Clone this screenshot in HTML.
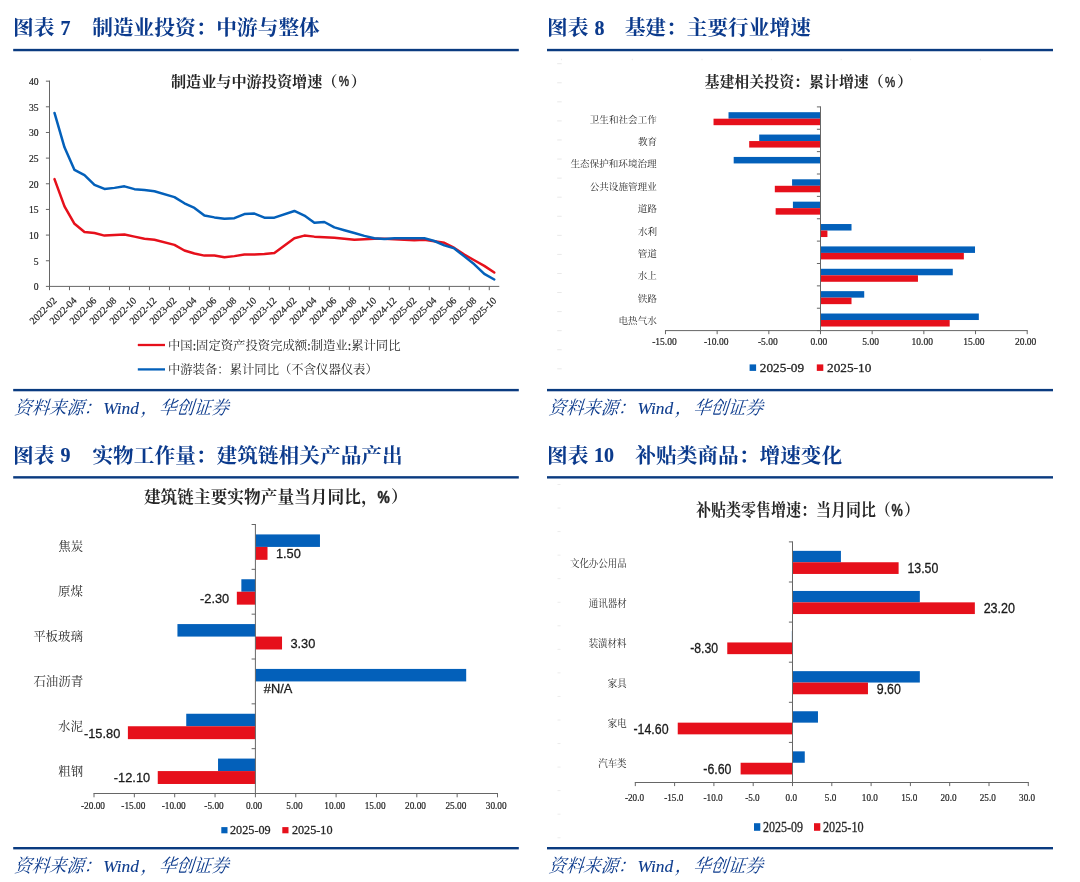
<!DOCTYPE html>
<html lang="zh-CN">
<head>
<meta charset="utf-8">
<title>图表 7-10</title>
<style>
html,body{margin:0;padding:0;background:#fff}
body{position:relative;width:1080px;height:882px;overflow:hidden;font-family:"Liberation Serif",serif}
svg{position:absolute;left:0;top:0;display:block;will-change:transform}
.t{position:absolute;white-space:nowrap;line-height:1;color:transparent;font-family:"Liberation Serif",serif;pointer-events:none;user-select:none}
.c{font-family:"Liberation Serif","Noto Serif CJK SC",serif}
</style>
</head>
<body>
<svg width="1080" height="882" viewBox="0 0 1080 882" font-family="Liberation Serif">
<!-- rules -->
<rect x="13.2" y="48.85" width="505.6" height="2.4" fill="#0a3b80"/>
<rect x="13.2" y="388.9" width="505.6" height="2.4" fill="#0a3b80"/>
<rect x="13.2" y="476.15" width="505.6" height="2.4" fill="#0a3b80"/>
<rect x="13.2" y="847" width="505.6" height="2.4" fill="#0a3b80"/>
<rect x="547" y="48.85" width="506" height="2.4" fill="#0a3b80"/>
<rect x="547" y="388.9" width="506" height="2.4" fill="#0a3b80"/>
<rect x="547" y="476.15" width="506" height="2.4" fill="#0a3b80"/>
<rect x="547" y="847" width="506" height="2.4" fill="#0a3b80"/>
<!-- headings -->
<text class="c" x="13.1" y="35.47" font-size="20.7" font-weight="bold" fill="#0b3a8c">图表</text>
<text x="60.5" y="35" font-size="20" fill="#0b3a8c" stroke="#0b3a8c" stroke-width="0.15" font-weight="bold">7</text>
<text class="c" x="92.22" y="35.47" font-size="20.7" font-weight="bold" fill="#0b3a8c">制造业投资：中游与整体</text>
<text class="c" x="547.1" y="35.47" font-size="20.7" font-weight="bold" fill="#0b3a8c">图表</text>
<text x="594.5" y="35" font-size="20" fill="#0b3a8c" stroke="#0b3a8c" stroke-width="0.15" font-weight="bold">8</text>
<text class="c" x="624.67" y="35.47" font-size="20.7" font-weight="bold" fill="#0b3a8c">基建：主要行业增速</text>
<text class="c" x="13.1" y="462.87" font-size="20.7" font-weight="bold" fill="#0b3a8c">图表</text>
<text x="60.5" y="462.4" font-size="20" fill="#0b3a8c" stroke="#0b3a8c" stroke-width="0.15" font-weight="bold">9</text>
<text class="c" x="92.43" y="462.87" font-size="20.7" font-weight="bold" fill="#0b3a8c">实物工作量：建筑链相关产品产出</text>
<text class="c" x="547.1" y="462.87" font-size="20.7" font-weight="bold" fill="#0b3a8c">图表</text>
<text x="593.9" y="462.4" font-size="20" fill="#0b3a8c" stroke="#0b3a8c" stroke-width="0.15" font-weight="bold">10</text>
<text class="c" x="635.32" y="462.87" font-size="20.7" font-weight="bold" fill="#0b3a8c">补贴类商品：增速变化</text>
<!-- sources -->
<text class="c" transform="translate(14.02 413.66) skewX(-18) scale(0.9434 1)" font-size="18.44" fill="#0b3a8c">资料来源：</text>
<text x="103.2" y="413.86" font-size="17.4" fill="#0b3a8c" stroke="#0b3a8c" stroke-width="0.12" font-style="italic">Wind</text>
<text class="c" transform="translate(140.4 413.66) skewX(-18) scale(0.9434 1)" font-size="18.44" fill="#0b3a8c">，</text>
<text class="c" transform="translate(158.75 413.66) skewX(-18) scale(0.9434 1)" font-size="18.44" fill="#0b3a8c">华创证券</text>
<text class="c" transform="translate(548.32 413.66) skewX(-18) scale(0.9434 1)" font-size="18.44" fill="#0b3a8c">资料来源：</text>
<text x="637.5" y="413.86" font-size="17.4" fill="#0b3a8c" stroke="#0b3a8c" stroke-width="0.12" font-style="italic">Wind</text>
<text class="c" transform="translate(674.7 413.66) skewX(-18) scale(0.9434 1)" font-size="18.44" fill="#0b3a8c">，</text>
<text class="c" transform="translate(693.05 413.66) skewX(-18) scale(0.9434 1)" font-size="18.44" fill="#0b3a8c">华创证券</text>
<text class="c" transform="translate(14.02 872.26) skewX(-18) scale(0.9434 1)" font-size="18.44" fill="#0b3a8c">资料来源：</text>
<text x="103.2" y="872.46" font-size="17.4" fill="#0b3a8c" stroke="#0b3a8c" stroke-width="0.12" font-style="italic">Wind</text>
<text class="c" transform="translate(140.4 872.26) skewX(-18) scale(0.9434 1)" font-size="18.44" fill="#0b3a8c">，</text>
<text class="c" transform="translate(158.75 872.26) skewX(-18) scale(0.9434 1)" font-size="18.44" fill="#0b3a8c">华创证券</text>
<text class="c" transform="translate(548.32 872.26) skewX(-18) scale(0.9434 1)" font-size="18.44" fill="#0b3a8c">资料来源：</text>
<text x="637.5" y="872.46" font-size="17.4" fill="#0b3a8c" stroke="#0b3a8c" stroke-width="0.12" font-style="italic">Wind</text>
<text class="c" transform="translate(674.7 872.26) skewX(-18) scale(0.9434 1)" font-size="18.44" fill="#0b3a8c">，</text>
<text class="c" transform="translate(693.05 872.26) skewX(-18) scale(0.9434 1)" font-size="18.44" fill="#0b3a8c">华创证券</text>
<!-- chart 1 -->
<text class="c" x="170.91" y="86.53" font-size="15.15" font-weight="bold" fill="#262626">制造业与中游投资增速（</text>
<text x="338.66" y="86.23" font-size="14.54" fill="#262626" stroke="#262626" stroke-width="0.45" font-family="Liberation Sans" transform="translate(338.66 0) scale(0.8 1) translate(-338.66 0)">%</text>
<text class="c" x="350.86" y="86.53" font-size="15.15" font-weight="bold" fill="#262626">）</text>
<path d="M49.5 80.6L49.5 286.9" stroke="#666666" stroke-width="1"/>
<path d="M49 286.4L499.3 286.4" stroke="#666666" stroke-width="1"/>
<path d="M45.9 286.4L49.5 286.4" stroke="#666666" stroke-width="1"/>
<text x="38.6" y="290.2" font-size="9.6" fill="#262626" stroke="#262626" stroke-width="0.21" text-anchor="end">0</text>
<path d="M45.9 260.75L49.5 260.75" stroke="#666666" stroke-width="1"/>
<text x="38.6" y="264.55" font-size="9.6" fill="#262626" stroke="#262626" stroke-width="0.21" text-anchor="end">5</text>
<path d="M45.9 235.09L49.5 235.09" stroke="#666666" stroke-width="1"/>
<text x="38.6" y="238.89" font-size="9.6" fill="#262626" stroke="#262626" stroke-width="0.21" text-anchor="end">10</text>
<path d="M45.9 209.43L49.5 209.43" stroke="#666666" stroke-width="1"/>
<text x="38.6" y="213.23" font-size="9.6" fill="#262626" stroke="#262626" stroke-width="0.21" text-anchor="end">15</text>
<path d="M45.9 183.78L49.5 183.78" stroke="#666666" stroke-width="1"/>
<text x="38.6" y="187.58" font-size="9.6" fill="#262626" stroke="#262626" stroke-width="0.21" text-anchor="end">20</text>
<path d="M45.9 158.12L49.5 158.12" stroke="#666666" stroke-width="1"/>
<text x="38.6" y="161.92" font-size="9.6" fill="#262626" stroke="#262626" stroke-width="0.21" text-anchor="end">25</text>
<path d="M45.9 132.47L49.5 132.47" stroke="#666666" stroke-width="1"/>
<text x="38.6" y="136.27" font-size="9.6" fill="#262626" stroke="#262626" stroke-width="0.21" text-anchor="end">30</text>
<path d="M45.9 106.81L49.5 106.81" stroke="#666666" stroke-width="1"/>
<text x="38.6" y="110.61" font-size="9.6" fill="#262626" stroke="#262626" stroke-width="0.21" text-anchor="end">35</text>
<path d="M45.9 81.16L49.5 81.16" stroke="#666666" stroke-width="1"/>
<text x="38.6" y="84.96" font-size="9.6" fill="#262626" stroke="#262626" stroke-width="0.21" text-anchor="end">40</text>
<path d="M49.5 286.4L49.5 290.2" stroke="#666666" stroke-width="1"/>
<path d="M69.49 286.4L69.49 290.2" stroke="#666666" stroke-width="1"/>
<path d="M89.48 286.4L89.48 290.2" stroke="#666666" stroke-width="1"/>
<path d="M109.47 286.4L109.47 290.2" stroke="#666666" stroke-width="1"/>
<path d="M129.46 286.4L129.46 290.2" stroke="#666666" stroke-width="1"/>
<path d="M149.45 286.4L149.45 290.2" stroke="#666666" stroke-width="1"/>
<path d="M169.44 286.4L169.44 290.2" stroke="#666666" stroke-width="1"/>
<path d="M189.43 286.4L189.43 290.2" stroke="#666666" stroke-width="1"/>
<path d="M209.42 286.4L209.42 290.2" stroke="#666666" stroke-width="1"/>
<path d="M229.41 286.4L229.41 290.2" stroke="#666666" stroke-width="1"/>
<path d="M249.4 286.4L249.4 290.2" stroke="#666666" stroke-width="1"/>
<path d="M269.39 286.4L269.39 290.2" stroke="#666666" stroke-width="1"/>
<path d="M289.38 286.4L289.38 290.2" stroke="#666666" stroke-width="1"/>
<path d="M309.37 286.4L309.37 290.2" stroke="#666666" stroke-width="1"/>
<path d="M329.36 286.4L329.36 290.2" stroke="#666666" stroke-width="1"/>
<path d="M349.35 286.4L349.35 290.2" stroke="#666666" stroke-width="1"/>
<path d="M369.34 286.4L369.34 290.2" stroke="#666666" stroke-width="1"/>
<path d="M389.33 286.4L389.33 290.2" stroke="#666666" stroke-width="1"/>
<path d="M409.32 286.4L409.32 290.2" stroke="#666666" stroke-width="1"/>
<path d="M429.31 286.4L429.31 290.2" stroke="#666666" stroke-width="1"/>
<path d="M449.3 286.4L449.3 290.2" stroke="#666666" stroke-width="1"/>
<path d="M469.29 286.4L469.29 290.2" stroke="#666666" stroke-width="1"/>
<path d="M489.28 286.4L489.28 290.2" stroke="#666666" stroke-width="1"/>
<text x="57.2" y="301.1" font-size="10" fill="#262626" stroke="#262626" stroke-width="0.22" text-anchor="end" transform="rotate(-45 57.2 301.1)">2022-02</text>
<text x="77.19" y="301.1" font-size="10" fill="#262626" stroke="#262626" stroke-width="0.22" text-anchor="end" transform="rotate(-45 77.19 301.1)">2022-04</text>
<text x="97.18" y="301.1" font-size="10" fill="#262626" stroke="#262626" stroke-width="0.22" text-anchor="end" transform="rotate(-45 97.18 301.1)">2022-06</text>
<text x="117.17" y="301.1" font-size="10" fill="#262626" stroke="#262626" stroke-width="0.22" text-anchor="end" transform="rotate(-45 117.17 301.1)">2022-08</text>
<text x="137.16" y="301.1" font-size="10" fill="#262626" stroke="#262626" stroke-width="0.22" text-anchor="end" transform="rotate(-45 137.16 301.1)">2022-10</text>
<text x="157.15" y="301.1" font-size="10" fill="#262626" stroke="#262626" stroke-width="0.22" text-anchor="end" transform="rotate(-45 157.15 301.1)">2022-12</text>
<text x="177.14" y="301.1" font-size="10" fill="#262626" stroke="#262626" stroke-width="0.22" text-anchor="end" transform="rotate(-45 177.14 301.1)">2023-02</text>
<text x="197.13" y="301.1" font-size="10" fill="#262626" stroke="#262626" stroke-width="0.22" text-anchor="end" transform="rotate(-45 197.13 301.1)">2023-04</text>
<text x="217.12" y="301.1" font-size="10" fill="#262626" stroke="#262626" stroke-width="0.22" text-anchor="end" transform="rotate(-45 217.12 301.1)">2023-06</text>
<text x="237.11" y="301.1" font-size="10" fill="#262626" stroke="#262626" stroke-width="0.22" text-anchor="end" transform="rotate(-45 237.11 301.1)">2023-08</text>
<text x="257.1" y="301.1" font-size="10" fill="#262626" stroke="#262626" stroke-width="0.22" text-anchor="end" transform="rotate(-45 257.1 301.1)">2023-10</text>
<text x="277.09" y="301.1" font-size="10" fill="#262626" stroke="#262626" stroke-width="0.22" text-anchor="end" transform="rotate(-45 277.09 301.1)">2023-12</text>
<text x="297.08" y="301.1" font-size="10" fill="#262626" stroke="#262626" stroke-width="0.22" text-anchor="end" transform="rotate(-45 297.08 301.1)">2024-02</text>
<text x="317.07" y="301.1" font-size="10" fill="#262626" stroke="#262626" stroke-width="0.22" text-anchor="end" transform="rotate(-45 317.07 301.1)">2024-04</text>
<text x="337.06" y="301.1" font-size="10" fill="#262626" stroke="#262626" stroke-width="0.22" text-anchor="end" transform="rotate(-45 337.06 301.1)">2024-06</text>
<text x="357.05" y="301.1" font-size="10" fill="#262626" stroke="#262626" stroke-width="0.22" text-anchor="end" transform="rotate(-45 357.05 301.1)">2024-08</text>
<text x="377.04" y="301.1" font-size="10" fill="#262626" stroke="#262626" stroke-width="0.22" text-anchor="end" transform="rotate(-45 377.04 301.1)">2024-10</text>
<text x="397.03" y="301.1" font-size="10" fill="#262626" stroke="#262626" stroke-width="0.22" text-anchor="end" transform="rotate(-45 397.03 301.1)">2024-12</text>
<text x="417.02" y="301.1" font-size="10" fill="#262626" stroke="#262626" stroke-width="0.22" text-anchor="end" transform="rotate(-45 417.02 301.1)">2025-02</text>
<text x="437.01" y="301.1" font-size="10" fill="#262626" stroke="#262626" stroke-width="0.22" text-anchor="end" transform="rotate(-45 437.01 301.1)">2025-04</text>
<text x="457" y="301.1" font-size="10" fill="#262626" stroke="#262626" stroke-width="0.22" text-anchor="end" transform="rotate(-45 457 301.1)">2025-06</text>
<text x="476.99" y="301.1" font-size="10" fill="#262626" stroke="#262626" stroke-width="0.22" text-anchor="end" transform="rotate(-45 476.99 301.1)">2025-08</text>
<text x="496.98" y="301.1" font-size="10" fill="#262626" stroke="#262626" stroke-width="0.22" text-anchor="end" transform="rotate(-45 496.98 301.1)">2025-10</text>
<path d="M54.5 179.16L64.49 206.36L74.49 223.8L84.48 232.01L94.48 233.04L104.47 235.6L114.47 235.09L124.46 234.58L134.46 236.63L144.45 238.68L154.45 239.71L174.44 244.84L184.43 250.48L194.43 253.56L204.42 255.61L214.42 255.61L224.41 257.15L234.41 256.13L244.4 254.59L254.4 254.59L264.39 254.07L274.39 253.05L294.38 238.17L304.37 235.6L314.37 236.63L324.36 237.14L334.36 237.66L344.35 238.68L354.35 239.71L364.34 239.19L374.34 238.68L384.33 238.68L394.33 239.19L414.32 240.22L424.31 239.71L434.31 241.25L444.3 242.79L454.3 247.92L464.29 254.59L474.29 260.23L484.28 265.88L494.28 272.55" fill="none" stroke="#e6101b" stroke-width="2.5" stroke-linejoin="round" stroke-linecap="round"/>
<path d="M54.5 112.97L64.49 147.35L74.49 169.93L84.48 175.06L94.48 184.81L104.47 188.91L114.47 187.88L124.46 186.35L134.46 189.17L144.45 189.94L154.45 191.22L174.44 197.12L184.43 203.28L194.43 207.9L204.42 215.59L214.42 217.39L224.41 218.67L234.41 218.16L244.4 214.05L254.4 213.54L264.39 217.64L274.39 217.64L294.38 210.97L304.37 215.59L314.37 222.78L324.36 222.01L334.36 227.39L344.35 230.22L354.35 233.04L364.34 235.86L374.34 238.17L384.33 238.94L394.33 238.17L404.32 238.17L414.32 238.17L424.31 238.17L434.31 240.99L444.3 245.35L454.3 248.43L464.29 256.38L474.29 264.34L484.28 273.83L494.28 279.47" fill="none" stroke="#0360ba" stroke-width="2.5" stroke-linejoin="round" stroke-linecap="round"/>
<path d="M137.8 345L165 345" stroke="#e6101b" stroke-width="2.3"/>
<text class="c" x="167.95" y="350.03" font-size="12.35" fill="#262626">中国</text>
<text x="192.65" y="349.73" font-size="12.35" fill="#262626" stroke="#262626" stroke-width="0.27">:</text>
<text class="c" x="196.08" y="350.03" font-size="12.35" fill="#262626">固定资产投资完成额</text>
<text x="307.23" y="349.73" font-size="12.35" fill="#262626" stroke="#262626" stroke-width="0.27">:</text>
<text class="c" x="310.66" y="350.03" font-size="12.35" fill="#262626">制造业</text>
<text x="347.71" y="349.73" font-size="12.35" fill="#262626" stroke="#262626" stroke-width="0.27">:</text>
<text class="c" x="351.14" y="350.03" font-size="12.35" fill="#262626">累计同比</text>
<path d="M137.8 369.4L165 369.4" stroke="#0360ba" stroke-width="2.3"/>
<text class="c" x="167.95" y="374.03" font-size="12.35" fill="#262626">中游装备：累计同比（不含仪器仪表）</text>
<!-- chart 2 -->
<text class="c" x="704.48" y="86.82" font-size="14.95" font-weight="bold" fill="#262626">基建相关投资：累计增速（</text>
<text x="884.98" y="86.52" font-size="14.35" fill="#262626" stroke="#262626" stroke-width="0.45" font-family="Liberation Sans" transform="translate(884.98 0) scale(0.8 1) translate(-884.98 0)">%</text>
<text class="c" x="897.18" y="86.82" font-size="14.95" font-weight="bold" fill="#262626">）</text>
<rect x="728.52" y="112.19" width="91.98" height="6.5" fill="#0360ba"/>
<rect x="713.53" y="118.69" width="106.97" height="6.5" fill="#e6101b"/>
<text class="c" x="589.73" y="122.65" font-size="9.6" fill="#2d2d2d">卫生和社会工作</text>
<rect x="759.21" y="134.56" width="61.29" height="6.5" fill="#0360ba"/>
<rect x="749.19" y="141.06" width="71.31" height="6.5" fill="#e6101b"/>
<text class="c" x="637.95" y="145.02" font-size="9.6" fill="#2d2d2d">教育</text>
<rect x="733.69" y="156.93" width="86.81" height="6.5" fill="#0360ba"/>
<text class="c" x="570.38" y="167.39" font-size="9.6" fill="#2d2d2d">生态保护和环境治理</text>
<rect x="792.08" y="179.29" width="28.42" height="6.5" fill="#0360ba"/>
<rect x="774.82" y="185.79" width="45.68" height="6.5" fill="#e6101b"/>
<text class="c" x="589.67" y="189.76" font-size="9.6" fill="#2d2d2d">公共设施管理业</text>
<rect x="792.91" y="201.66" width="27.59" height="6.5" fill="#0360ba"/>
<rect x="775.65" y="208.16" width="44.85" height="6.5" fill="#e6101b"/>
<text class="c" x="637.67" y="212.13" font-size="9.6" fill="#2d2d2d">道路</text>
<rect x="820.5" y="224.03" width="31.01" height="6.5" fill="#0360ba"/>
<rect x="820.5" y="230.53" width="6.92" height="6.5" fill="#e6101b"/>
<text class="c" x="637.92" y="234.5" font-size="9.6" fill="#2d2d2d">水利</text>
<rect x="820.5" y="246.41" width="154.51" height="6.5" fill="#0360ba"/>
<rect x="820.5" y="252.91" width="143.35" height="6.5" fill="#e6101b"/>
<text class="c" x="637.75" y="256.87" font-size="9.6" fill="#2d2d2d">管道</text>
<rect x="820.5" y="268.78" width="132.29" height="6.5" fill="#0360ba"/>
<rect x="820.5" y="275.28" width="97.46" height="6.5" fill="#e6101b"/>
<text class="c" x="637.78" y="279.24" font-size="9.6" fill="#2d2d2d">水上</text>
<rect x="820.5" y="291.15" width="43.72" height="6.5" fill="#0360ba"/>
<rect x="820.5" y="297.65" width="31.01" height="6.5" fill="#e6101b"/>
<text class="c" x="637.67" y="301.61" font-size="9.6" fill="#2d2d2d">铁路</text>
<rect x="820.5" y="313.52" width="158.33" height="6.5" fill="#0360ba"/>
<rect x="820.5" y="320.02" width="129.19" height="6.5" fill="#e6101b"/>
<text class="c" x="618.47" y="323.98" font-size="9.6" fill="#2d2d2d">电热气水</text>
<path d="M820.5 106.4L820.5 331.1" stroke="#666666" stroke-width="1"/>
<path d="M816.9 106.9L820.5 106.9" stroke="#666666" stroke-width="1"/>
<path d="M816.9 129.27L820.5 129.27" stroke="#666666" stroke-width="1"/>
<path d="M816.9 151.64L820.5 151.64" stroke="#666666" stroke-width="1"/>
<path d="M816.9 174.01L820.5 174.01" stroke="#666666" stroke-width="1"/>
<path d="M816.9 196.38L820.5 196.38" stroke="#666666" stroke-width="1"/>
<path d="M816.9 218.75L820.5 218.75" stroke="#666666" stroke-width="1"/>
<path d="M816.9 241.12L820.5 241.12" stroke="#666666" stroke-width="1"/>
<path d="M816.9 263.49L820.5 263.49" stroke="#666666" stroke-width="1"/>
<path d="M816.9 285.86L820.5 285.86" stroke="#666666" stroke-width="1"/>
<path d="M816.9 308.23L820.5 308.23" stroke="#666666" stroke-width="1"/>
<path d="M816.9 330.6L820.5 330.6" stroke="#666666" stroke-width="1"/>
<path d="M664.98 330.6L1027.7 330.6" stroke="#666666" stroke-width="1"/>
<path d="M665.48 330.6L665.48 334.2" stroke="#666666" stroke-width="1"/>
<text x="664.48" y="345.2" font-size="9.5" fill="#262626" stroke="#262626" stroke-width="0.21" text-anchor="middle">-15.00</text>
<path d="M717.15 330.6L717.15 334.2" stroke="#666666" stroke-width="1"/>
<text x="716.15" y="345.2" font-size="9.5" fill="#262626" stroke="#262626" stroke-width="0.21" text-anchor="middle">-10.00</text>
<path d="M768.83 330.6L768.83 334.2" stroke="#666666" stroke-width="1"/>
<text x="767.83" y="345.2" font-size="9.5" fill="#262626" stroke="#262626" stroke-width="0.21" text-anchor="middle">-5.00</text>
<path d="M820.5 330.6L820.5 334.2" stroke="#666666" stroke-width="1"/>
<text x="818.9" y="345.2" font-size="9.5" fill="#262626" stroke="#262626" stroke-width="0.21" text-anchor="middle">0.00</text>
<path d="M872.17 330.6L872.17 334.2" stroke="#666666" stroke-width="1"/>
<text x="870.57" y="345.2" font-size="9.5" fill="#262626" stroke="#262626" stroke-width="0.21" text-anchor="middle">5.00</text>
<path d="M923.85 330.6L923.85 334.2" stroke="#666666" stroke-width="1"/>
<text x="922.25" y="345.2" font-size="9.5" fill="#262626" stroke="#262626" stroke-width="0.21" text-anchor="middle">10.00</text>
<path d="M975.52 330.6L975.52 334.2" stroke="#666666" stroke-width="1"/>
<text x="973.92" y="345.2" font-size="9.5" fill="#262626" stroke="#262626" stroke-width="0.21" text-anchor="middle">15.00</text>
<path d="M1027.2 330.6L1027.2 334.2" stroke="#666666" stroke-width="1"/>
<text x="1025.6" y="345.2" font-size="9.5" fill="#262626" stroke="#262626" stroke-width="0.21" text-anchor="middle">20.00</text>
<rect x="749.6" y="364.4" width="6.5" height="6.5" fill="#0360ba"/>
<text x="759.8" y="372" font-size="13.3" fill="#262626" stroke="#262626" stroke-width="0.29">2025-09</text>
<rect x="816.8" y="364.4" width="6.5" height="6.5" fill="#e6101b"/>
<text x="827" y="372" font-size="13.3" fill="#262626" stroke="#262626" stroke-width="0.29">2025-10</text>
<path d="M557.2 63.7L561.7 63.7" stroke="#e9e9e9" stroke-width="1"/>
<path d="M557.2 82.77L561.7 82.77" stroke="#e9e9e9" stroke-width="1"/>
<path d="M557.2 101.84L561.7 101.84" stroke="#e9e9e9" stroke-width="1"/>
<path d="M557.2 120.91L561.7 120.91" stroke="#e9e9e9" stroke-width="1"/>
<path d="M557.2 139.98L561.7 139.98" stroke="#e9e9e9" stroke-width="1"/>
<path d="M557.2 159.05L561.7 159.05" stroke="#e9e9e9" stroke-width="1"/>
<path d="M557.2 178.12L561.7 178.12" stroke="#e9e9e9" stroke-width="1"/>
<path d="M557.2 197.19L561.7 197.19" stroke="#e9e9e9" stroke-width="1"/>
<path d="M557.2 216.26L561.7 216.26" stroke="#e9e9e9" stroke-width="1"/>
<path d="M557.2 235.33L561.7 235.33" stroke="#e9e9e9" stroke-width="1"/>
<path d="M557.2 254.4L561.7 254.4" stroke="#e9e9e9" stroke-width="1"/>
<path d="M557.2 273.47L561.7 273.47" stroke="#e9e9e9" stroke-width="1"/>
<path d="M557.2 292.54L561.7 292.54" stroke="#e9e9e9" stroke-width="1"/>
<path d="M557.2 311.61L561.7 311.61" stroke="#e9e9e9" stroke-width="1"/>
<path d="M557.2 330.68L561.7 330.68" stroke="#e9e9e9" stroke-width="1"/>
<path d="M557.2 349.75L561.7 349.75" stroke="#e9e9e9" stroke-width="1"/>
<path d="M557.2 368.82L561.7 368.82" stroke="#e9e9e9" stroke-width="1"/>
<!-- chart 3 -->
<text class="c" x="143.92" y="502.95" font-size="16.7" font-weight="bold" fill="#262626">建筑链主要实物产量当月同比</text>
<text class="c" x="361.32" y="502.95" font-size="16.7" font-weight="bold" fill="#262626">，</text>
<text x="377.52" y="502.65" font-size="16.03" fill="#262626" stroke="#262626" stroke-width="0.5" font-family="Liberation Sans" font-weight="bold" transform="translate(377.52 0) scale(0.86 1) translate(-377.52 0)">%</text>
<text class="c" x="390.92" y="502.95" font-size="16.7" font-weight="bold" fill="#262626">）</text>
<rect x="255.4" y="534.42" width="64.56" height="12.5" fill="#0360ba"/>
<rect x="255.4" y="546.92" width="12.11" height="12.9" fill="#e6101b"/>
<text class="c" x="58.2" y="551.34" font-size="12.45" fill="#2d2d2d">焦炭</text>
<text x="275.9" y="558.27" font-size="12.8" fill="#1a1a1a" stroke="#1a1a1a" stroke-width="0.28" font-family="Liberation Sans">1.50</text>
<rect x="241.36" y="579.25" width="14.04" height="12.5" fill="#0360ba"/>
<rect x="236.84" y="591.75" width="18.56" height="12.9" fill="#e6101b"/>
<text class="c" x="58.02" y="596.17" font-size="12.45" fill="#2d2d2d">原煤</text>
<text x="229.24" y="603.1" font-size="12.8" fill="#1a1a1a" stroke="#1a1a1a" stroke-width="0.28" font-family="Liberation Sans" text-anchor="end">-2.30</text>
<rect x="177.44" y="624.08" width="77.96" height="12.5" fill="#0360ba"/>
<rect x="255.4" y="636.58" width="26.63" height="12.9" fill="#e6101b"/>
<text class="c" x="33.14" y="641.01" font-size="12.45" fill="#2d2d2d">平板玻璃</text>
<text x="290.43" y="647.93" font-size="12.8" fill="#1a1a1a" stroke="#1a1a1a" stroke-width="0.28" font-family="Liberation Sans">3.30</text>
<rect x="255.4" y="668.92" width="210.79" height="12.5" fill="#0360ba"/>
<text class="c" x="33.39" y="685.84" font-size="12.45" fill="#2d2d2d">石油沥青</text>
<text x="263.8" y="692.77" font-size="12.8" fill="#1a1a1a" stroke="#1a1a1a" stroke-width="0.28" font-family="Liberation Sans">#N/A</text>
<rect x="186.24" y="713.75" width="69.16" height="12.5" fill="#0360ba"/>
<rect x="127.89" y="726.25" width="127.51" height="12.9" fill="#e6101b"/>
<text class="c" x="58.1" y="730.67" font-size="12.45" fill="#2d2d2d">水泥</text>
<text x="120.29" y="737.6" font-size="12.8" fill="#1a1a1a" stroke="#1a1a1a" stroke-width="0.28" font-family="Liberation Sans" text-anchor="end">-15.80</text>
<rect x="218.04" y="758.58" width="37.36" height="12.5" fill="#0360ba"/>
<rect x="157.75" y="771.08" width="97.65" height="12.9" fill="#e6101b"/>
<text class="c" x="58.22" y="775.51" font-size="12.45" fill="#2d2d2d">粗钢</text>
<text x="150.15" y="782.43" font-size="12.8" fill="#1a1a1a" stroke="#1a1a1a" stroke-width="0.28" font-family="Liberation Sans" text-anchor="end">-12.10</text>
<path d="M255.4 524L255.4 794" stroke="#666666" stroke-width="1"/>
<path d="M251.6 524.5L255.4 524.5" stroke="#666666" stroke-width="1"/>
<path d="M251.6 569.33L255.4 569.33" stroke="#666666" stroke-width="1"/>
<path d="M251.6 614.17L255.4 614.17" stroke="#666666" stroke-width="1"/>
<path d="M251.6 659L255.4 659" stroke="#666666" stroke-width="1"/>
<path d="M251.6 703.83L255.4 703.83" stroke="#666666" stroke-width="1"/>
<path d="M251.6 748.67L255.4 748.67" stroke="#666666" stroke-width="1"/>
<path d="M251.6 793.5L255.4 793.5" stroke="#666666" stroke-width="1"/>
<path d="M93.5 793.5L498 793.5" stroke="#666666" stroke-width="1"/>
<path d="M94 793.5L94 797.3" stroke="#666666" stroke-width="1"/>
<text x="93" y="808.7" font-size="9.3" fill="#262626" stroke="#262626" stroke-width="0.2" text-anchor="middle">-20.00</text>
<path d="M134.35 793.5L134.35 797.3" stroke="#666666" stroke-width="1"/>
<text x="133.35" y="808.7" font-size="9.3" fill="#262626" stroke="#262626" stroke-width="0.2" text-anchor="middle">-15.00</text>
<path d="M174.7 793.5L174.7 797.3" stroke="#666666" stroke-width="1"/>
<text x="173.7" y="808.7" font-size="9.3" fill="#262626" stroke="#262626" stroke-width="0.2" text-anchor="middle">-10.00</text>
<path d="M215.05 793.5L215.05 797.3" stroke="#666666" stroke-width="1"/>
<text x="214.05" y="808.7" font-size="9.3" fill="#262626" stroke="#262626" stroke-width="0.2" text-anchor="middle">-5.00</text>
<path d="M255.4 793.5L255.4 797.3" stroke="#666666" stroke-width="1"/>
<text x="254.1" y="808.7" font-size="9.3" fill="#262626" stroke="#262626" stroke-width="0.2" text-anchor="middle">0.00</text>
<path d="M295.75 793.5L295.75 797.3" stroke="#666666" stroke-width="1"/>
<text x="294.45" y="808.7" font-size="9.3" fill="#262626" stroke="#262626" stroke-width="0.2" text-anchor="middle">5.00</text>
<path d="M336.1 793.5L336.1 797.3" stroke="#666666" stroke-width="1"/>
<text x="334.8" y="808.7" font-size="9.3" fill="#262626" stroke="#262626" stroke-width="0.2" text-anchor="middle">10.00</text>
<path d="M376.45 793.5L376.45 797.3" stroke="#666666" stroke-width="1"/>
<text x="375.15" y="808.7" font-size="9.3" fill="#262626" stroke="#262626" stroke-width="0.2" text-anchor="middle">15.00</text>
<path d="M416.8 793.5L416.8 797.3" stroke="#666666" stroke-width="1"/>
<text x="415.5" y="808.7" font-size="9.3" fill="#262626" stroke="#262626" stroke-width="0.2" text-anchor="middle">20.00</text>
<path d="M457.15 793.5L457.15 797.3" stroke="#666666" stroke-width="1"/>
<text x="455.85" y="808.7" font-size="9.3" fill="#262626" stroke="#262626" stroke-width="0.2" text-anchor="middle">25.00</text>
<path d="M497.5 793.5L497.5 797.3" stroke="#666666" stroke-width="1"/>
<text x="496.2" y="808.7" font-size="9.3" fill="#262626" stroke="#262626" stroke-width="0.2" text-anchor="middle">30.00</text>
<rect x="221.3" y="827.1" width="6.2" height="6.2" fill="#0360ba"/>
<text x="230" y="834" font-size="12.2" fill="#262626" stroke="#262626" stroke-width="0.27">2025-09</text>
<rect x="282.3" y="827.1" width="6.2" height="6.2" fill="#e6101b"/>
<text x="291.9" y="834" font-size="12.2" fill="#262626" stroke="#262626" stroke-width="0.27">2025-10</text>
<!-- chart 4 -->
<text class="c" transform="translate(696.08 515.74) scale(0.909 1)" font-size="16.5" font-weight="bold" fill="#262626">补贴类零售增速：当月同比（</text>
<text x="891.6" y="516.24" font-size="15.84" fill="#262626" stroke="#262626" stroke-width="0.3" font-family="Liberation Sans" font-weight="bold" transform="translate(891.6 0) scale(0.8 1) translate(-891.6 0)">%</text>
<text class="c" transform="translate(904.33 515.74) scale(0.909 1)" font-size="16.5" font-weight="bold" fill="#262626">）</text>
<rect x="792.5" y="550.85" width="48.42" height="11.4" fill="#0360ba"/>
<rect x="792.5" y="562.25" width="106.11" height="11.7" fill="#e6101b"/>
<text class="c" transform="translate(569.94 566.6) scale(0.885 1)" font-size="10.7" fill="#2d2d2d">文化办公用品</text>
<text x="907.41" y="573.25" font-size="14.7" fill="#1a1a1a" stroke="#1a1a1a" stroke-width="0.3" font-family="Liberation Sans" textLength="30.9" lengthAdjust="spacingAndGlyphs">13.50</text>
<rect x="792.5" y="590.95" width="127.33" height="11.4" fill="#0360ba"/>
<rect x="792.5" y="602.35" width="182.35" height="11.7" fill="#e6101b"/>
<text class="c" transform="translate(588.77 606.7) scale(0.885 1)" font-size="10.7" fill="#2d2d2d">通讯器材</text>
<text x="983.65" y="613.35" font-size="14.7" fill="#1a1a1a" stroke="#1a1a1a" stroke-width="0.3" font-family="Liberation Sans" textLength="31.4" lengthAdjust="spacingAndGlyphs">23.20</text>
<rect x="791.87" y="631.05" width="0.63" height="11.4" fill="#0360ba"/>
<rect x="727.26" y="642.45" width="65.24" height="11.7" fill="#e6101b"/>
<text class="c" transform="translate(588.63 646.8) scale(0.885 1)" font-size="10.7" fill="#2d2d2d">装潢材料</text>
<text x="690.16" y="653.45" font-size="14.7" fill="#1a1a1a" stroke="#1a1a1a" stroke-width="0.3" font-family="Liberation Sans" textLength="27.9" lengthAdjust="spacingAndGlyphs">-8.30</text>
<rect x="792.5" y="671.15" width="127.33" height="11.4" fill="#0360ba"/>
<rect x="792.5" y="682.55" width="75.46" height="11.7" fill="#e6101b"/>
<text class="c" transform="translate(607.71 686.9) scale(0.885 1)" font-size="10.7" fill="#2d2d2d">家具</text>
<text x="876.76" y="693.55" font-size="14.7" fill="#1a1a1a" stroke="#1a1a1a" stroke-width="0.3" font-family="Liberation Sans" textLength="24.15" lengthAdjust="spacingAndGlyphs">9.60</text>
<rect x="792.5" y="711.25" width="25.47" height="11.4" fill="#0360ba"/>
<rect x="677.74" y="722.65" width="114.76" height="11.7" fill="#e6101b"/>
<text class="c" transform="translate(607.67 727) scale(0.885 1)" font-size="10.7" fill="#2d2d2d">家电</text>
<text x="633.39" y="733.65" font-size="14.7" fill="#1a1a1a" stroke="#1a1a1a" stroke-width="0.3" font-family="Liberation Sans" textLength="35.15" lengthAdjust="spacingAndGlyphs">-14.60</text>
<rect x="792.5" y="751.35" width="12.26" height="11.4" fill="#0360ba"/>
<rect x="740.62" y="762.75" width="51.88" height="11.7" fill="#e6101b"/>
<text class="c" transform="translate(598.2 767.1) scale(0.885 1)" font-size="10.7" fill="#2d2d2d">汽车类</text>
<text x="703.27" y="773.75" font-size="14.7" fill="#1a1a1a" stroke="#1a1a1a" stroke-width="0.3" font-family="Liberation Sans" textLength="28.15" lengthAdjust="spacingAndGlyphs">-6.60</text>
<path d="M792.5 541.4L792.5 783" stroke="#666666" stroke-width="1"/>
<path d="M788.9 541.9L792.5 541.9" stroke="#666666" stroke-width="1"/>
<path d="M788.9 582L792.5 582" stroke="#666666" stroke-width="1"/>
<path d="M788.9 622.1L792.5 622.1" stroke="#666666" stroke-width="1"/>
<path d="M788.9 662.2L792.5 662.2" stroke="#666666" stroke-width="1"/>
<path d="M788.9 702.3L792.5 702.3" stroke="#666666" stroke-width="1"/>
<path d="M788.9 742.4L792.5 742.4" stroke="#666666" stroke-width="1"/>
<path d="M788.9 782.5L792.5 782.5" stroke="#666666" stroke-width="1"/>
<path d="M634.8 782.5L1028.8 782.5" stroke="#666666" stroke-width="1"/>
<path d="M635.3 782.5L635.3 786.1" stroke="#666666" stroke-width="1"/>
<text x="634.5" y="800.6" font-size="10.2" fill="#262626" stroke="#262626" stroke-width="0.22" text-anchor="middle" transform="translate(634.5 0) scale(0.9 1) translate(-634.5 0)">-20.0</text>
<path d="M674.6 782.5L674.6 786.1" stroke="#666666" stroke-width="1"/>
<text x="673.8" y="800.6" font-size="10.2" fill="#262626" stroke="#262626" stroke-width="0.22" text-anchor="middle" transform="translate(673.8 0) scale(0.9 1) translate(-673.8 0)">-15.0</text>
<path d="M713.9 782.5L713.9 786.1" stroke="#666666" stroke-width="1"/>
<text x="713.1" y="800.6" font-size="10.2" fill="#262626" stroke="#262626" stroke-width="0.22" text-anchor="middle" transform="translate(713.1 0) scale(0.9 1) translate(-713.1 0)">-10.0</text>
<path d="M753.2 782.5L753.2 786.1" stroke="#666666" stroke-width="1"/>
<text x="752.4" y="800.6" font-size="10.2" fill="#262626" stroke="#262626" stroke-width="0.22" text-anchor="middle" transform="translate(752.4 0) scale(0.9 1) translate(-752.4 0)">-5.0</text>
<path d="M792.5 782.5L792.5 786.1" stroke="#666666" stroke-width="1"/>
<text x="791.3" y="800.6" font-size="10.2" fill="#262626" stroke="#262626" stroke-width="0.22" text-anchor="middle" transform="translate(791.3 0) scale(0.9 1) translate(-791.3 0)">0.0</text>
<path d="M831.8 782.5L831.8 786.1" stroke="#666666" stroke-width="1"/>
<text x="830.6" y="800.6" font-size="10.2" fill="#262626" stroke="#262626" stroke-width="0.22" text-anchor="middle" transform="translate(830.6 0) scale(0.9 1) translate(-830.6 0)">5.0</text>
<path d="M871.1 782.5L871.1 786.1" stroke="#666666" stroke-width="1"/>
<text x="869.9" y="800.6" font-size="10.2" fill="#262626" stroke="#262626" stroke-width="0.22" text-anchor="middle" transform="translate(869.9 0) scale(0.9 1) translate(-869.9 0)">10.0</text>
<path d="M910.4 782.5L910.4 786.1" stroke="#666666" stroke-width="1"/>
<text x="909.2" y="800.6" font-size="10.2" fill="#262626" stroke="#262626" stroke-width="0.22" text-anchor="middle" transform="translate(909.2 0) scale(0.9 1) translate(-909.2 0)">15.0</text>
<path d="M949.7 782.5L949.7 786.1" stroke="#666666" stroke-width="1"/>
<text x="948.5" y="800.6" font-size="10.2" fill="#262626" stroke="#262626" stroke-width="0.22" text-anchor="middle" transform="translate(948.5 0) scale(0.9 1) translate(-948.5 0)">20.0</text>
<path d="M989 782.5L989 786.1" stroke="#666666" stroke-width="1"/>
<text x="987.8" y="800.6" font-size="10.2" fill="#262626" stroke="#262626" stroke-width="0.22" text-anchor="middle" transform="translate(987.8 0) scale(0.9 1) translate(-987.8 0)">25.0</text>
<path d="M1028.3 782.5L1028.3 786.1" stroke="#666666" stroke-width="1"/>
<text x="1027.1" y="800.6" font-size="10.2" fill="#262626" stroke="#262626" stroke-width="0.22" text-anchor="middle" transform="translate(1027.1 0) scale(0.9 1) translate(-1027.1 0)">30.0</text>
<rect x="754" y="823.2" width="6.3" height="7.6" fill="#0360ba"/>
<text x="763" y="832" font-size="14" fill="#262626" stroke="#262626" stroke-width="0.3" textLength="40" lengthAdjust="spacingAndGlyphs">2025-09</text>
<rect x="814" y="823.2" width="6.3" height="7.6" fill="#e6101b"/>
<text x="823" y="832" font-size="14" fill="#262626" stroke="#262626" stroke-width="0.3" textLength="40.6" lengthAdjust="spacingAndGlyphs">2025-10</text>
<path d="M557.5 484.5L560.5 484.5" stroke="#ececec" stroke-width="1"/>
<path d="M557.5 508.05L560.5 508.05" stroke="#ececec" stroke-width="1"/>
<path d="M557.5 531.6L560.5 531.6" stroke="#ececec" stroke-width="1"/>
<path d="M557.5 555.15L560.5 555.15" stroke="#ececec" stroke-width="1"/>
<path d="M557.5 578.7L560.5 578.7" stroke="#ececec" stroke-width="1"/>
<path d="M557.5 602.25L560.5 602.25" stroke="#ececec" stroke-width="1"/>
<path d="M557.5 625.8L560.5 625.8" stroke="#ececec" stroke-width="1"/>
<path d="M557.5 649.35L560.5 649.35" stroke="#ececec" stroke-width="1"/>
<path d="M557.5 672.9L560.5 672.9" stroke="#ececec" stroke-width="1"/>
<path d="M557.5 696.45L560.5 696.45" stroke="#ececec" stroke-width="1"/>
<path d="M557.5 720L560.5 720" stroke="#ececec" stroke-width="1"/>
<path d="M557.5 743.55L560.5 743.55" stroke="#ececec" stroke-width="1"/>
<path d="M557.5 767.1L560.5 767.1" stroke="#ececec" stroke-width="1"/>
<path d="M557.5 790.65L560.5 790.65" stroke="#ececec" stroke-width="1"/>
<path d="M557.5 814.2L560.5 814.2" stroke="#ececec" stroke-width="1"/>
<path d="M557.5 837.75L560.5 837.75" stroke="#ececec" stroke-width="1"/>
<rect x="561" y="58.8" width="1" height="1.4" fill="#ececec"/>
<rect x="631.8" y="58.8" width="1" height="1.4" fill="#ececec"/>
<rect x="701.5" y="58.8" width="1" height="1.4" fill="#ececec"/>
<rect x="770.9" y="58.8" width="1" height="1.4" fill="#ececec"/>
<rect x="840.7" y="58.8" width="1" height="1.4" fill="#ececec"/>
<rect x="910.1" y="58.8" width="1" height="1.4" fill="#ececec"/>
<rect x="979.9" y="58.8" width="1" height="1.4" fill="#ececec"/>
</svg>
<div class="texts">
<span class="t" style="left:15px;top:18px;font-size:20.7px">图表 7  制造业投资：中游与整体</span>
<span class="t" style="left:549px;top:18px;font-size:20.7px">图表 8  基建：主要行业增速</span>
<span class="t" style="left:15px;top:445px;font-size:20.7px">图表 9  实物工作量：建筑链相关产品产出</span>
<span class="t" style="left:549px;top:445px;font-size:20.7px">图表 10  补贴类商品：增速变化</span>
<span class="t" style="left:171px;top:73px;font-size:15.15px">制造业与中游投资增速（%）</span>
<span class="t" style="left:169px;top:339px;font-size:12.35px">中国:固定资产投资完成额:制造业:累计同比</span>
<span class="t" style="left:169px;top:363px;font-size:12.35px">中游装备：累计同比（不含仪器仪表）</span>
<span class="t" style="left:705px;top:73px;font-size:14.95px">基建相关投资：累计增速（%）</span>
<span class="t" style="left:589.4px;top:113.4px;font-size:9.6px">卫生和社会工作</span>
<span class="t" style="left:637.4px;top:135.77px;font-size:9.6px">教育</span>
<span class="t" style="left:570.2px;top:158.14px;font-size:9.6px">生态保护和环境治理</span>
<span class="t" style="left:589.4px;top:180.51px;font-size:9.6px">公共设施管理业</span>
<span class="t" style="left:637.4px;top:202.88px;font-size:9.6px">道路</span>
<span class="t" style="left:637.4px;top:225.25px;font-size:9.6px">水利</span>
<span class="t" style="left:637.4px;top:247.62px;font-size:9.6px">管道</span>
<span class="t" style="left:637.4px;top:269.99px;font-size:9.6px">水上</span>
<span class="t" style="left:637.4px;top:292.36px;font-size:9.6px">铁路</span>
<span class="t" style="left:618.2px;top:314.73px;font-size:9.6px">电热气水</span>
<span class="t" style="left:144px;top:488px;font-size:16.7px">建筑链主要实物产量当月同比，%）</span>
<span class="t" style="left:57.7px;top:540.5px;font-size:12.45px">焦炭</span>
<span class="t" style="left:57.7px;top:585.33px;font-size:12.45px">原煤</span>
<span class="t" style="left:32.8px;top:630.17px;font-size:12.45px">平板玻璃</span>
<span class="t" style="left:32.8px;top:675px;font-size:12.45px">石油沥青</span>
<span class="t" style="left:57.7px;top:719.83px;font-size:12.45px">水泥</span>
<span class="t" style="left:57.7px;top:764.67px;font-size:12.45px">粗钢</span>
<span class="t" style="left:696px;top:501px;font-size:15px">补贴类零售增速：当月同比（%）</span>
<span class="t" style="left:569.3px;top:556.9px;font-size:9.5px">文化办公用品</span>
<span class="t" style="left:588.3px;top:597px;font-size:9.5px">通讯器材</span>
<span class="t" style="left:588.3px;top:637.1px;font-size:9.5px">装潢材料</span>
<span class="t" style="left:607.3px;top:677.2px;font-size:9.5px">家具</span>
<span class="t" style="left:607.3px;top:717.3px;font-size:9.5px">家电</span>
<span class="t" style="left:597.8px;top:757.4px;font-size:9.5px">汽车类</span>
<span class="t" style="left:16px;top:398px;font-size:17.4px">资料来源：Wind，华创证券</span>
<span class="t" style="left:550px;top:398px;font-size:17.4px">资料来源：Wind，华创证券</span>
<span class="t" style="left:16px;top:857px;font-size:17.4px">资料来源：Wind，华创证券</span>
<span class="t" style="left:550px;top:857px;font-size:17.4px">资料来源：Wind，华创证券</span>
</div>
</body>
</html>
